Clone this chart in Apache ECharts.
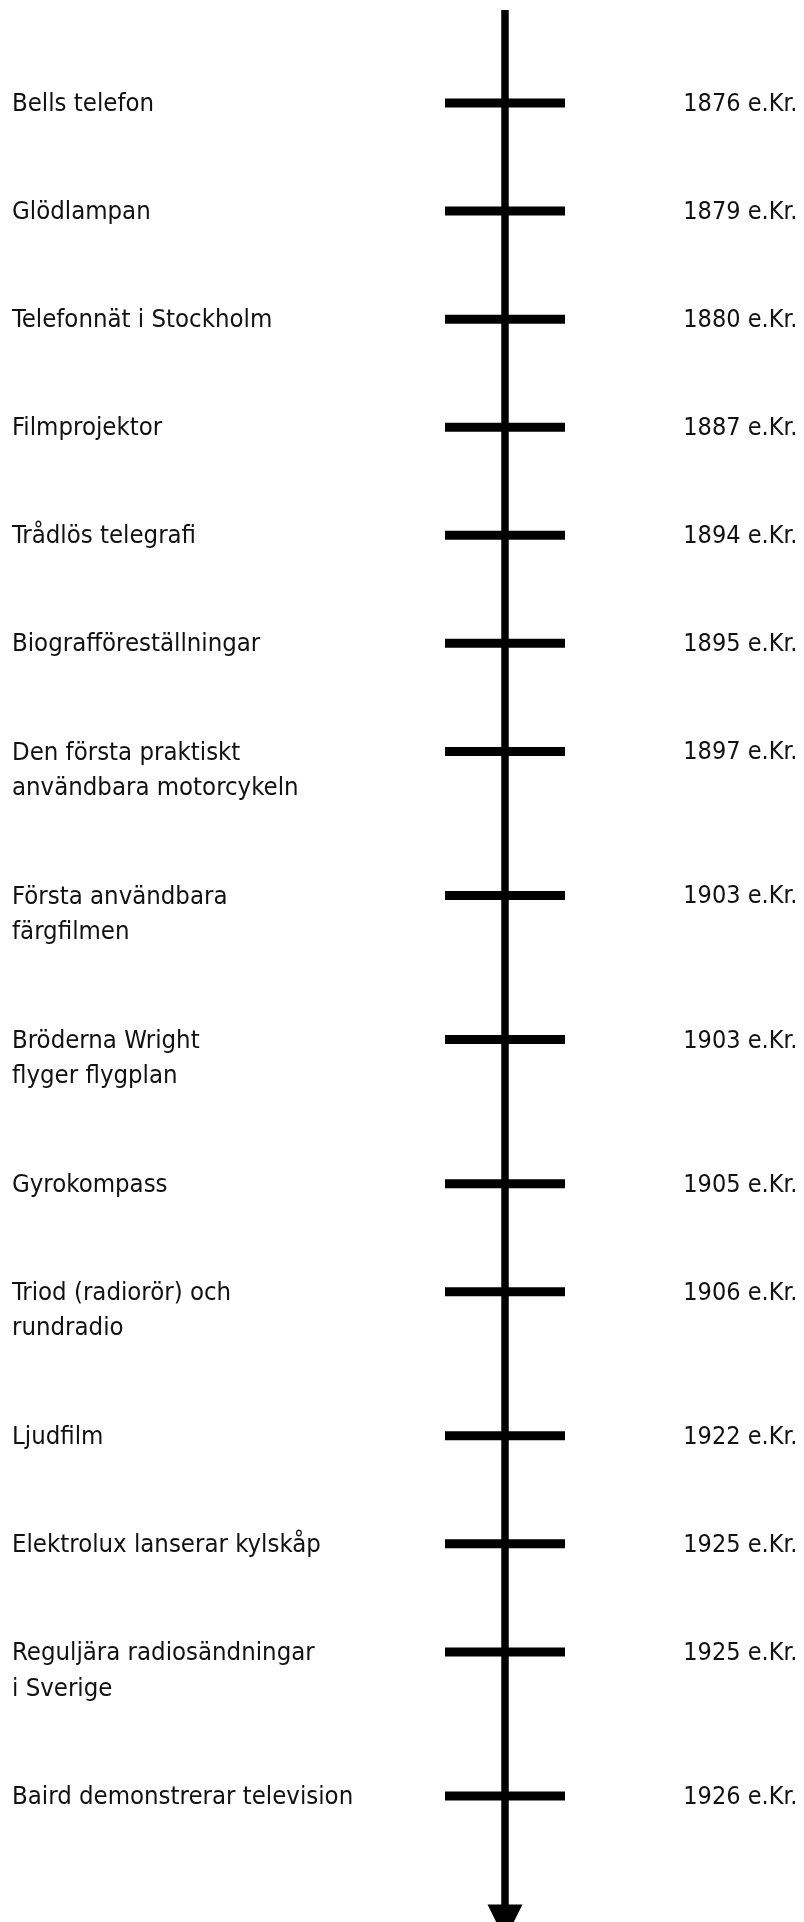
<!DOCTYPE html>
<html>
<head>
<meta charset="utf-8">
<style>
  html, body { margin: 0; padding: 0; background: #ffffff; }
  #chart { width: 804px; height: 1922px; }
</style>
<script src="https://cdn.jsdelivr.net/npm/echarts@6/dist/echarts.min.js"></script>
</head>
<body>
<div id="chart"></div>
<script>
// ---- data ----
const events = [
  'Bells telefon',
  'Glödlampan',
  'Telefonnät i Stockholm',
  'Filmprojektor',
  'Trådlös telegrafi',
  'Biografföreställningar',
  'Den första praktiskt\nanvändbara motorcykeln',
  'Första användbara\nfärgfilmen',
  'Bröderna Wright\nflyger flygplan',
  'Gyrokompass',
  'Triod (radiorör) och\nrundradio',
  'Ljudfilm',
  'Elektrolux lanserar kylskåp',
  'Reguljära radiosändningar\ni Sverige',
  'Baird demonstrerar television'
];
const years = [1876, 1879, 1880, 1887, 1894, 1895, 1897, 1903, 1903, 1905, 1906, 1922, 1925, 1925, 1926];
const yearSuffix = ' e.Kr.';

// ---- layout: each entry takes (2 + its number of text lines) row units ----
const positions = [];
events.forEach(function (e, i) {
  if (i === 0) { positions.push(0); return; }
  const prevLines = events[i - 1].split('\n').length;
  positions.push(positions[i - 1] + 2 + prevLines);
});
const lastPos = positions[positions.length - 1];

const FONT = "'DejaVu Sans Condensed', 'DejaVu Sans', sans-serif";
const LINE_H = 35.5;

const chart = echarts.init(document.getElementById('chart'), null, { renderer: 'canvas' });
chart.setOption({
  animation: false,
  backgroundColor: '#ffffff',
  grid: { left: 445, right: 239, top: 103, bottom: 126, containLabel: false },
  xAxis: { type: 'value', min: -1, max: 1, show: false },
  yAxis: { type: 'value', inverse: true, min: 0, max: lastPos, show: false },
  series: [
    {
      type: 'line',
      silent: true,
      clip: false,
      symbol: 'none',
      data: [[0, -2.58], [0, lastPos + 3.3]],
      lineStyle: { color: '#000000', width: 7.5, opacity: 1 },
      z: 1
    },
    {
      type: 'scatter',
      silent: true,
      clip: false,
      symbol: 'triangle',
      symbolRotate: 180,
      symbolSize: [35, 35],
      data: [[0, lastPos + 3.5]],
      itemStyle: { color: '#000000', opacity: 1 },
      z: 2
    },
    {
      type: 'scatter',
      silent: true,
      symbol: 'rect',
      symbolSize: [120, 9],
      data: positions.map(function (p) { return [0, p]; }),
      itemStyle: { color: '#000000', opacity: 1 },
      z: 3
    },
    {
      type: 'scatter',
      silent: true,
      clip: false,
      symbolSize: 1,
      itemStyle: { color: 'rgba(0,0,0,0)', opacity: 1 },
      data: positions.map(function (p, i) { return { value: [-1, p], name: events[i] }; }),
      label: {
        show: true,
        position: 'inside',
        align: 'left',
        verticalAlign: 'top',
        offset: [-433, -LINE_H / 2 + 1.5],
        fontFamily: FONT, fontSize: 25.5, lineHeight: LINE_H, color: '#111111',
        formatter: function (d) { return d.name; }
      },
      z: 4
    },
    {
      type: 'scatter',
      silent: true,
      clip: false,
      symbolSize: 1,
      itemStyle: { color: 'rgba(0,0,0,0)', opacity: 1 },
      data: positions.map(function (p, i) { return { value: [1, p], name: String(years[i]) }; }),
      label: {
        show: true,
        position: 'inside',
        align: 'right',
        verticalAlign: 'top',
        offset: [232.5, -LINE_H / 2 + 1.5],
        fontFamily: FONT, fontSize: 25, lineHeight: LINE_H, color: '#111111',
        formatter: function (d) { return d.name + yearSuffix; }
      },
      z: 4
    }
  ]
});
</script>
</body>
</html>
